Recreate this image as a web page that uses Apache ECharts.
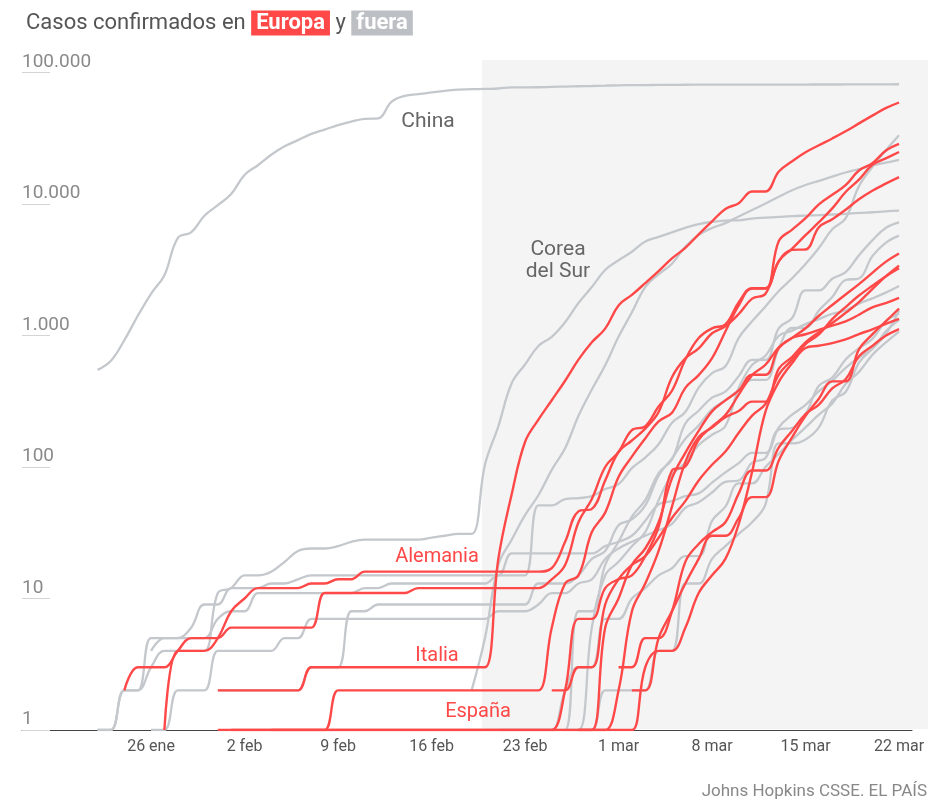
<!DOCTYPE html>
<html><head><meta charset="utf-8">
<script src="https://cdn.jsdelivr.net/npm/echarts@6/dist/echarts.min.js"></script>
<style>html,body{margin:0;padding:0;background:#fff}#c{width:946px;height:803px}</style>
</head><body><div id="c"></div>
<script>
// Day index: 0 = 22 ene 2020 ... 60 = 22 mar 2020
const tickDays = [4, 11, 18, 25, 32, 39, 46, 53, 60];
const tickLabels = ['26 ene', '2 feb', '9 feb', '16 feb', '23 feb', '1 mar', '8 mar', '15 mar', '22 mar'];
const yTickLabels = ['1', '10', '100', '1.000', '10.000', '100.000'];

// ---- fuera de Europa (gris) ----
const chinaStart = 0;
const china = [548,643,920,1406,2075,2877,5509,6087,8141,9802,11891,16630,19716,23707,27440,30587,34110,36814,39829,42354,44386,44759,59895,66358,68413,70513,72434,74211,74619,75077,75550,77001,77022,77241,77754,78166,78600,78928,79356,79932,80136,80261,80386,80537,80690,80770,80823,80860,80887,80921,80932,80945,80977,81003,81033,81058,81102,81156,81250,81305,81435];
const coreaStart = 0;
const corea = [1,1,2,2,3,4,4,4,4,11,12,15,15,16,19,23,24,24,25,27,28,28,28,28,28,29,30,31,31,104,204,433,602,833,977,1261,1766,2337,3150,3736,4335,5186,5621,6088,6593,7041,7314,7478,7513,7755,7869,7979,8086,8162,8236,8320,8413,8565,8652,8799,8897];
const eeuuStart = 0;
const eeuu = [1,1,2,2,5,5,5,5,5,7,8,8,11,11,11,11,11,11,11,11,12,12,13,13,13,13,13,13,13,13,15,15,15,51,51,57,58,60,68,74,98,118,149,217,262,402,518,583,959,1281,1663,2179,2726,3499,4632,6421,7786,13680,19101,25493,33276];
const iranStart = 28;
const iran = [2,5,18,28,43,61,95,139,245,388,593,978,1501,2336,2922,3513,4747,5823,6566,7161,8042,9000,10075,11364,12729,13938,14991,16169,17361,18407,19644,20610,21638];
const suizaStart = 34;
const suiza = [1,1,8,8,18,27,42,56,90,114,214,268,337,374,491,652,652,1139,1359,2200,2200,2700,3028,4075,5294,6575,7245];
const reinoUnidoStart = 9;
const reinoUnido = [2,2,2,2,2,2,2,3,3,3,8,8,9,9,9,9,9,9,9,9,9,9,9,9,13,13,13,15,20,23,36,40,51,86,116,164,207,274,322,384,459,459,802,1144,1145,1551,1960,2642,2716,4014,5067,5745];
const noruegaStart = 35;
const noruega = [1,1,6,15,19,25,32,56,87,108,147,176,205,400,598,702,996,1090,1221,1333,1463,1550,1746,1914,2118,2383];
const brasilStart = 35;
const brasil = [1,1,1,2,2,2,2,4,4,13,13,20,25,31,38,52,151,151,162,200,321,372,621,793,1021,1546];
const canadaStart = 4;
const canada = [1,1,2,2,2,4,4,4,4,4,5,5,7,7,7,7,7,7,7,7,7,7,7,7,7,7,8,8,8,9,11,11,13,14,20,24,27,30,33,37,49,54,64,77,79,108,117,193,198,252,415,478,657,800,943,1277,1469];
const australiaStart = 4;
const australia = [4,5,5,6,9,9,12,12,12,13,13,14,15,15,15,15,15,15,15,15,15,15,15,15,15,15,15,22,22,22,22,22,22,22,25,27,30,39,52,55,60,63,76,91,107,128,128,200,250,297,377,452,568,681,791,1071,1314];
const israelStart = 30;
const israel = [1,1,1,1,1,2,3,3,7,7,10,12,15,17,21,21,39,50,75,75,100,126,161,200,250,304,427,529,712,883,1071];

// ---- Europa (rojo) ----
const italiaStart = 9;
const italia = [2,2,2,2,2,2,2,3,3,3,3,3,3,3,3,3,3,3,3,3,3,20,62,155,229,322,453,655,888,1128,1694,2036,2502,3089,3858,4636,5883,7375,9172,10149,12462,12462,17660,21157,24747,27980,31506,35713,41035,47021,53578,59138];
const espanaStart = 10;
const espana = [1,1,1,1,1,1,1,1,2,2,2,2,2,2,2,2,2,2,2,2,2,2,2,2,6,13,15,32,45,84,120,165,222,259,400,500,673,1073,1695,2277,2277,5232,6391,7798,9942,11748,13910,17963,20410,25374,28603];
const alemaniaStart = 5;
const alemania = [1,4,4,4,5,8,10,12,12,12,12,13,13,14,14,16,16,16,16,16,16,16,16,16,16,16,16,16,16,17,27,46,48,79,130,159,196,262,482,670,799,1040,1176,1457,1908,2078,3675,4585,5795,7272,9257,12327,15320,19848,22213,24873];
const franciaStart = 2;
const francia = [2,3,3,3,4,5,5,5,6,6,6,6,6,6,6,11,11,11,11,11,11,11,12,12,12,12,12,12,12,12,12,12,14,18,38,57,100,130,191,204,288,380,656,957,1134,1217,1792,2289,2289,3672,4480,4513,6650,7652,9043,10871,12612,14282,16018];
const holandaStart = 36;
const holanda = [1,1,6,10,18,24,38,82,128,188,265,321,382,503,503,804,959,1135,1413,1705,2051,2460,2994,3631,4204];
const belgicaStart = 13;
const belgica = [1,1,1,1,1,1,1,1,1,1,1,1,1,1,1,1,1,1,1,1,1,1,1,1,1,1,2,8,13,23,50,109,169,200,239,267,314,314,559,689,886,1058,1243,1486,1795,2257,2815,3401];
const austriaStart = 34;
const austria = [2,2,3,3,9,14,18,21,29,41,55,79,104,131,182,246,302,504,655,860,1018,1332,1646,2013,2388,2814,3244];
const sueciaStart = 9;
const suecia = [1,1,1,1,1,1,1,1,1,1,1,1,1,1,1,1,1,1,1,1,1,1,1,1,1,1,2,7,7,12,14,15,21,35,94,101,161,203,248,355,500,599,814,961,1022,1103,1190,1279,1439,1639,1763,1934];
const portugalStart = 40;
const portugal = [2,2,5,8,13,20,30,30,41,59,59,112,169,245,331,448,448,785,1020,1280,1600];
const dinamarcaStart = 36;
const dinamarca = [1,1,1,1,1,3,4,4,6,11,15,20,37,92,264,444,617,804,836,875,933,1024,1115,1225,1337];
const chequiaStart = 39;
const chequia = [3,3,5,5,8,19,26,32,38,63,94,94,141,189,253,298,396,464,694,833,995,1120];

const fuera = [
  ['China', chinaStart, china], ['Corea del Sur', coreaStart, corea], ['EE UU', eeuuStart, eeuu],
  ['Irán', iranStart, iran], ['Suiza', suizaStart, suiza], ['Reino Unido', reinoUnidoStart, reinoUnido],
  ['Noruega', noruegaStart, noruega], ['Brasil', brasilStart, brasil], ['Canadá', canadaStart, canada],
  ['Australia', australiaStart, australia], ['Israel', israelStart, israel]
];
const europa = [
  ['Italia', italiaStart, italia], ['España', espanaStart, espana], ['Alemania', alemaniaStart, alemania],
  ['Francia', franciaStart, francia], ['Países Bajos', holandaStart, holanda], ['Bélgica', belgicaStart, belgica],
  ['Austria', austriaStart, austria], ['Suecia', sueciaStart, suecia], ['Portugal', portugalStart, portugal],
  ['Dinamarca', dinamarcaStart, dinamarca], ['Chequia', chequiaStart, chequia]
];

const RED = '#ff4848';
const GRAY = '#c4c8cc';
const FONT = 'Roboto, "Open Sans", sans-serif';

function mk(item, color, z, w) {
  return {
    name: item[0], type: 'line', data: item[2].map((v, i) => [item[1] + i, v]),
    symbol: 'none', smooth: 0.4, z: z, silent: true,
    lineStyle: { color: color, width: w }, emphasis: { disabled: true }
  };
}
const series = fuera.map(s => mk(s, GRAY, 2, 2.3)).concat(europa.map(s => mk(s, RED, 3, 2.4)));

const chart = echarts.init(document.getElementById('c'), null, { renderer: 'canvas' });
chart.setOption({
  animation: false,
  backgroundColor: '#fff',
  title: {
    left: 21, top: 4,
    text: '{a|Casos confirmados en }{e|Europa}{a| y }{f|fuera}',
    textStyle: {
      fontWeight: 'normal',
      rich: {
        a: { fontFamily: FONT, fontSize: 22, fontWeight: 'normal', color: '#555', lineHeight: 28 },
        e: { fontFamily: FONT, fontSize: 22, color: '#fff', fontWeight: 'bold', backgroundColor: RED, padding: [2, 5, 1, 5], lineHeight: 28 },
        f: { fontFamily: FONT, fontSize: 22, color: '#fff', fontWeight: 'bold', backgroundColor: '#bcc0c4', padding: [2, 5, 1, 5], lineHeight: 28 }
      }
    }
  },
  grid: { left: 22, right: 34, top: 72.5, bottom: 73, containLabel: false },
  xAxis: {
    type: 'value', min: -5.66, max: 60.97,
    axisLine: { show: true, onZero: false, lineStyle: { color: '#444', width: 1 } },
    axisTick: { show: false },
    splitLine: { show: false },
    axisLabel: {
      customValues: tickDays, margin: 9, color: '#555', fontSize: 16, fontFamily: FONT,
      formatter: v => { const k = tickDays.indexOf(Math.round(v)); return k >= 0 ? tickLabels[k] : ''; }
    }
  },
  yAxis: {
    type: 'log', logBase: 10, min: 1, max: 100000,
    axisLine: { show: false, onZero: false },
    splitLine: { show: false },
    axisTick: { show: true, inside: true, length: 28, lineStyle: { color: '#d4d4d4', width: 1 } },
    axisLabel: {
      inside: true, margin: 0, align: 'left', verticalAlign: 'bottom', padding: [0, 0, 1, 0],
      color: '#8a8a8a', fontSize: 19, fontFamily: FONT,
      formatter: v => { const k = Math.round(Math.log10(v)); return yTickLabels[k] || ''; }
    }
  },
  graphic: [
    { type: 'rect', z: -10, shape: { x: 482, y: 60, width: 446, height: 669 }, style: { fill: '#f4f4f4' }, silent: true },
    { type: 'text', z: 10, style: { text: 'China', x: 428, y: 122, textAlign: 'center', textVerticalAlign: 'middle', fill: '#666', font: '21px ' + FONT } },
    { type: 'text', z: 10, style: { text: 'Corea', x: 558, y: 250, textAlign: 'center', textVerticalAlign: 'middle', fill: '#666', font: '21px ' + FONT } },
    { type: 'text', z: 10, style: { text: 'del Sur', x: 558, y: 272, textAlign: 'center', textVerticalAlign: 'middle', fill: '#666', font: '21px ' + FONT } },
    { type: 'text', z: 10, style: { text: 'Alemania', x: 437, y: 557, textAlign: 'center', textVerticalAlign: 'middle', fill: RED, font: '20px ' + FONT } },
    { type: 'text', z: 10, style: { text: 'Italia', x: 437, y: 656, textAlign: 'center', textVerticalAlign: 'middle', fill: RED, font: '20px ' + FONT } },
    { type: 'text', z: 10, style: { text: 'España', x: 478, y: 712, textAlign: 'center', textVerticalAlign: 'middle', fill: RED, font: '20px ' + FONT } },
    { type: 'text', z: 10, style: { text: 'Johns Hopkins CSSE. EL PAÍS', x: 927, y: 792, textAlign: 'right', textVerticalAlign: 'middle', fill: '#888', font: '17px ' + FONT } }
  ],
  series: series
});
</script>
</body></html>
